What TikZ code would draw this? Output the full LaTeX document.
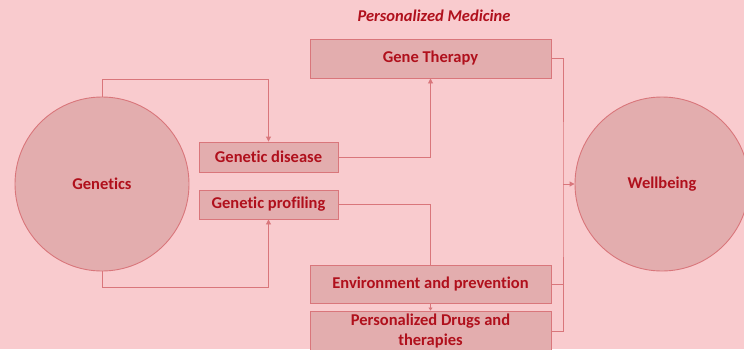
\documentclass[tikz,border=0pt]{standalone}
\usepackage{fontspec}
\setmainfont{Carlito}[Ligatures=NoCommon]
\usetikzlibrary{arrows.meta,positioning,calc}
\definecolor{bgpink}{HTML}{F9CBCE}
\definecolor{boxfill}{HTML}{E3ADAE}
\definecolor{edge}{HTML}{D9767B}
\definecolor{txtred}{HTML}{B0101C}
\tikzset{
  circ/.style={circle,draw=edge,fill=boxfill,line width=0.9pt,minimum size=174pt,inner sep=0pt,
    font=\fontsize{16.5}{19}\selectfont\bfseries,text=txtred},
  pbox/.style={rectangle,draw=edge,fill=boxfill,line width=0.9pt,inner sep=0pt,
    font=\fontsize{16.5}{20}\selectfont\bfseries,text=txtred,align=center},
  link/.style={draw=edge,line width=0.9pt},
  tip/.style={-{Triangle[length=5pt,width=5pt]}}
}
\begin{document}
\begin{tikzpicture}[x=1pt,y=-1pt]
\fill[bgpink] (0,0) rectangle (744,349);
\useasboundingbox (0,0) rectangle (744,349);

\node[font=\fontsize{16.5}{19}\selectfont\bfseries\itshape,text=txtred] (title) at (434,16) {Personalized Medicine};

\node[circ] (genetics) at (102,184) {Genetics};
\node[circ] (wellbeing) at (662,184) {Wellbeing};

\node[pbox,minimum width=139pt,minimum height=30pt] (disease) at (268.5,157) {Genetic disease};
\node[pbox,minimum width=139pt,minimum height=29pt] (profiling) at (268.5,204.5) {Genetic profiling};
\node[pbox,minimum width=241pt,minimum height=39pt] (therapy) at (430.5,58.5) {Gene Therapy};
\node[pbox,minimum width=241pt,minimum height=38pt] (env) at (430.5,284.5) {Environment and prevention};
\node[pbox,minimum width=241pt,minimum height=40pt] (drugs) at (430.5,331) {Personalized Drugs and\\therapies};

\coordinate (join) at (563,184);

% from genetics to the two boxes
\draw[link,tip] (genetics.north) -- ++(0,-17) -| (disease.north);
\draw[link,tip] (genetics.south) -- ++(0,16) -| (profiling.south);

% personalized medicine
\draw[link,tip] (disease.east) -| (therapy.south);
\draw[link] (profiling.east) -| (env.north);
\draw[link,-{Triangle[length=3pt,width=4pt]}] (env.south) -- (drugs.north);

% into wellbeing
\draw[link] (therapy.east) -| (join) |- (drugs.east);
\draw[link] (env.east) -- (env.east -| join);
\draw[link,tip] (join) -- (wellbeing.west);
\end{tikzpicture}
\end{document}
